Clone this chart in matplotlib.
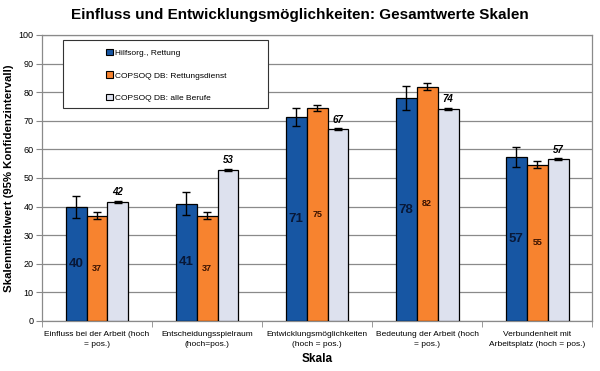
import matplotlib
matplotlib.use("Agg")
import matplotlib.pyplot as plt
from matplotlib.patches import Patch, Rectangle
import numpy as np

plt.rcParams['font.family'] = ['Liberation Sans', 'DejaVu Sans']

categories = ["Einfluss bei der Arbeit (hoch\n= pos.)",
              "Entscheidungsspielraum\n(hoch=pos.)",
              "Entwicklungsmöglichkeiten\n(hoch = pos.)",
              "Bedeutung der Arbeit (hoch\n= pos.)",
              "Verbundenheit mit\nArbeitsplatz (hoch = pos.)"]
series_names = ["Hilfsorg., Rettung", "COPSOQ DB: Rettungsdienst", "COPSOQ DB: alle Berufe"]
hilfsorg = [39.8, 41.0, 71.2, 77.9, 57.3]
hilfsorg_err = [3.9, 4.0, 3.1, 4.1, 3.6]
rettd = [36.8, 36.8, 74.5, 81.9, 54.7]
rettd_err = [1.2, 1.2, 1.0, 1.3, 1.3]
alle = [41.7, 52.9, 67.1, 74.2, 56.6]
alle_err = [0.3, 0.3, 0.3, 0.3, 0.3]
labels_h = ["40", "41", "71", "78", "57"]
labels_r = ["37", "37", "75", "82", "55"]
labels_a = ["42", "53", "67", "74", "57"]

colors = ["#1756A3", "#F7832F", "#DDE1EE"]
grid_c = "#8a8a8a"

fig = plt.figure(figsize=(6, 3.71), dpi=100)
ax = fig.add_axes([0.07, 0.1348, 0.917, 0.771])

x = np.arange(len(categories))
w = 0.19
ekw = dict(ecolor="black", elinewidth=1, capsize=2.8, capthick=1)
ax.bar(x - w, hilfsorg, w, color=colors[0], edgecolor="black", linewidth=0.9,
       yerr=hilfsorg_err, error_kw=ekw, zorder=3)
ax.bar(x, rettd, w, color=colors[1], edgecolor="black", linewidth=0.9,
       yerr=rettd_err, error_kw=ekw, zorder=3)
ax.bar(x + w, alle, w, color=colors[2], edgecolor="black", linewidth=0.9,
       yerr=alle_err, error_kw=ekw, zorder=3)

for xi, v, t in zip(x, hilfsorg, labels_h):
    ax.text(xi - w, v / 2, t, ha="center", va="center", fontsize=9.5,
            fontweight="bold", color="#081838", zorder=5)
for xi, v, t in zip(x, rettd, labels_r):
    ax.text(xi, v / 2, t, ha="center", va="center", fontsize=6.5,
            fontweight="bold", color="#3a1200", zorder=5)
for xi, v, t in zip(x, alle, labels_a):
    ax.text(xi + w, v + 1.5, t, ha="center", va="bottom", fontsize=7,
            fontweight="bold", fontstyle="italic", color="black", zorder=5)

ax.set_xlim(-0.5, len(categories) - 0.5)
ax.set_ylim(0, 100)
ax.set_yticks(np.arange(0, 101, 10))
ax.yaxis.grid(True, color=grid_c, linewidth=0.9, zorder=0)
ax.set_axisbelow(True)
ax.tick_params(axis="y", labelsize=6.5, length=4, color=grid_c, pad=2)
ax.set_xticks(x)
ax.set_xticklabels(categories, fontsize=6, linespacing=1.6)
ax.tick_params(axis="x", which="major", length=0, pad=7)
ax.set_xticks(np.arange(-0.5, len(categories), 1.0), minor=True)
ax.tick_params(axis="x", which="minor", length=4, color=grid_c)
for s in ax.spines.values():
    s.set_color(grid_c)
    s.set_linewidth(0.9)

ax.set_ylabel("Skalenmittelwert (95% Konfidenzintervall)", fontsize=8.2,
              fontweight="bold", labelpad=3)
ax.set_xlabel("Skala", fontsize=8.5, fontweight="bold", labelpad=4)
fig.suptitle("Einfluss und Entwicklungsmöglichkeiten: Gesamtwerte Skalen",
             fontsize=11, fontweight="bold", y=0.978)

# legend box
ax.add_patch(Rectangle((0.038, 0.745), 0.373, 0.238, transform=ax.transAxes,
                       facecolor="white", edgecolor="#333333", linewidth=0.8,
                       zorder=6))
handles = [Patch(facecolor=c, edgecolor="black", linewidth=0.8) for c in colors]
leg = ax.legend(handles, series_names, loc="upper left",
                bbox_to_anchor=(0.106, 0.972), frameon=False, fontsize=6,
                handlelength=0.8, handleheight=0.8, handletextpad=0.3,
                labelspacing=1.75, borderpad=0.2)
leg.set_zorder(7)

fig.savefig("out.png", dpi=100)
